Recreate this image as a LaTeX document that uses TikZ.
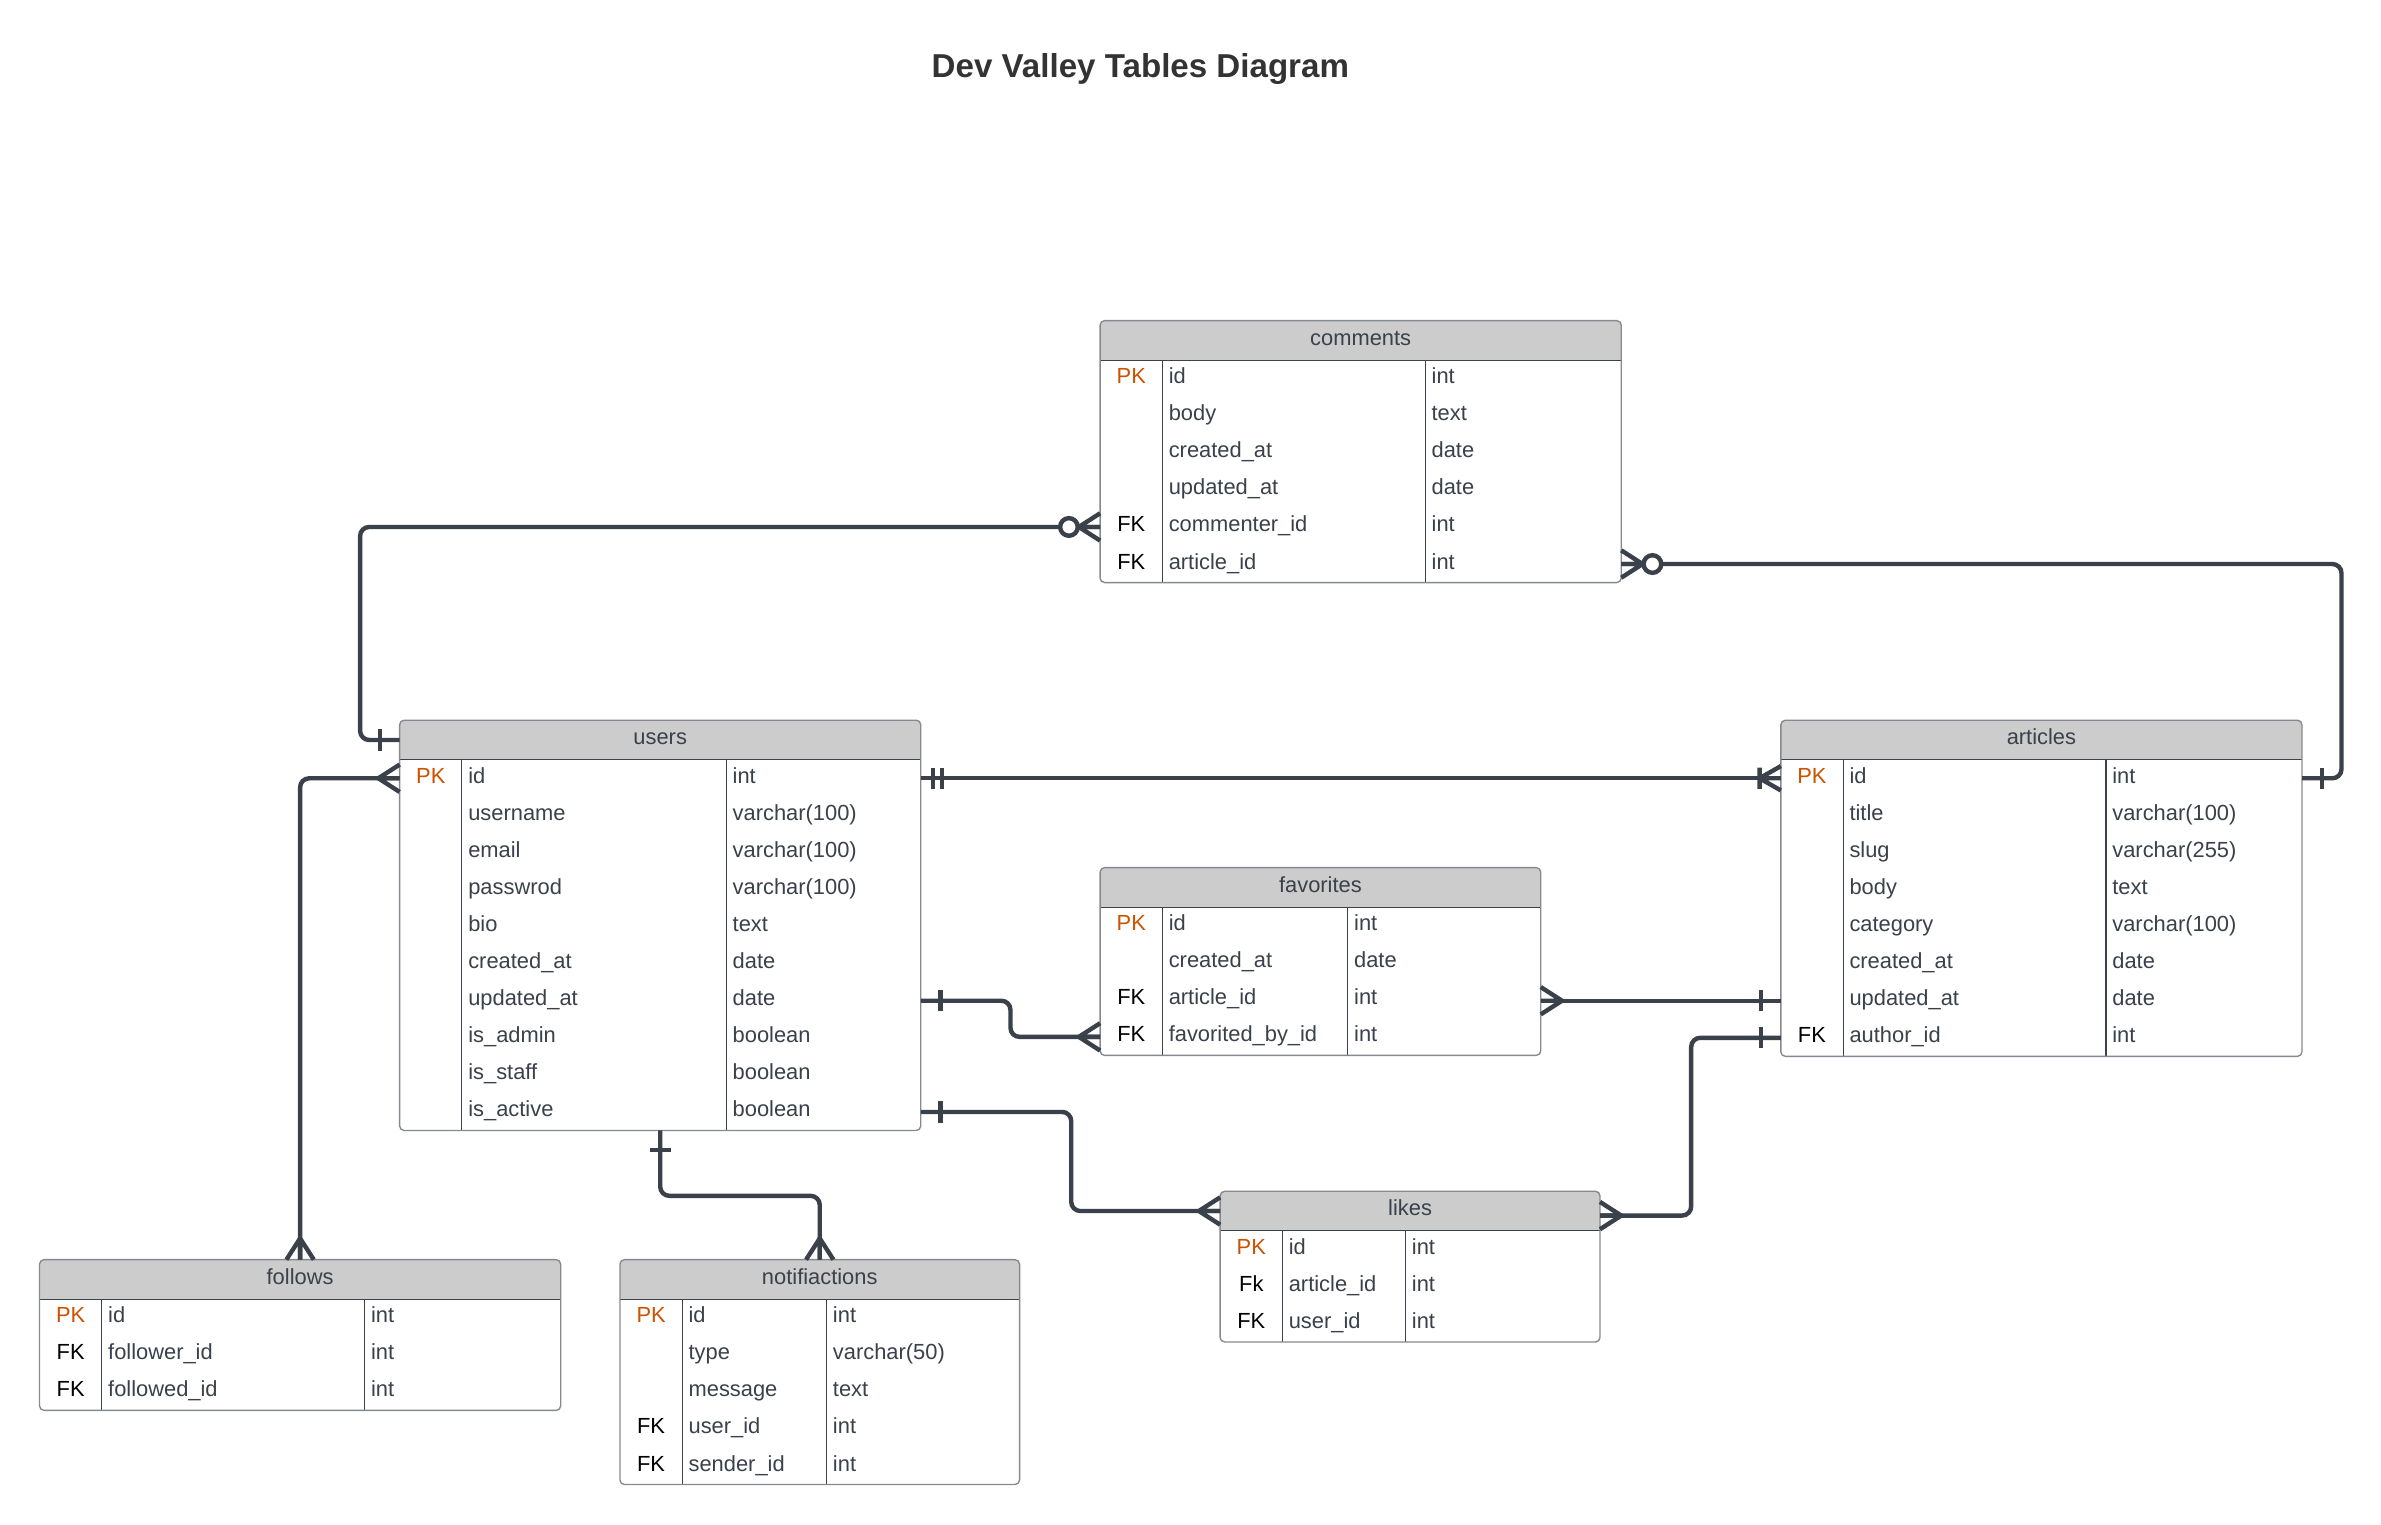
\documentclass[tikz,border=0pt]{standalone}
\usepackage{fontspec}
\setmainfont{Liberation Sans}
\usetikzlibrary{calc}
\definecolor{linecol}{HTML}{3A414A}
\definecolor{bordercol}{HTML}{868A90}
\definecolor{headfill}{HTML}{CCCCCC}
\definecolor{txtcol}{HTML}{3A414A}
\definecolor{pkcol}{HTML}{CC5200}
\definecolor{titlecol}{HTML}{333333}
\newcommand{\PKm}{\textcolor{pkcol}{PK}}
\tikzset{
  conn/.style={draw=linecol, line width=2.9pt, rounded corners=6pt},
  mk/.style={draw=linecol, line width=2.9pt},
  divline/.style={draw=linecol, line width=0.7pt},
  tabborder/.style={draw=bordercol, line width=0.9pt, rounded corners=3pt},
  cell/.style={font=\fontsize{14.4}{17}\selectfont, text=txtcol, inner sep=0pt},
  keycell/.style={cell, text=black, anchor=base},
  headcell/.style={cell, anchor=base},
  anchorbox/.style={inner sep=0pt, outer sep=0pt, draw=none, anchor=north west},
}
% #1 name #2 x #3 y #4 width #5 key width #6 name width #7 title #8 rows #9 list
\newcommand{\ertable}[9]{%
  \pgfmathsetmacro{\tabH}{26+#8*24.4}
  \fill[white, rounded corners=3pt] (#2,#3) rectangle ++(#4,\tabH);
  \begin{scope}
    \clip[rounded corners=3pt] (#2,#3) rectangle ++(#4,\tabH);
    \fill[headfill] (#2,#3) rectangle ++(#4,26);
  \end{scope}
  \draw[divline] ({#2},{#3+26}) -- ++(#4,0);
  \draw[divline] ({#2+#5},{#3+26}) -- ++(0,{#8*24.4});
  \draw[divline] ({#2+#5+#6},{#3+26}) -- ++(0,{#8*24.4});
  \draw[tabborder] (#2,#3) rectangle ++(#4,\tabH);
  \node[anchorbox, minimum width=#4pt, minimum height=\tabH pt] (#1) at (#2,#3) {};
  \node[anchorbox, minimum width=#4pt, minimum height=26pt] (#1-h) at (#2,#3) {};
  \node[headcell] (#1-title) at ({#2+#4/2},{#3+16.2}) {#7};
  \foreach \colk/\coln/\colt [count=\i] in {#9} {
    \pgfmathsetmacro{\cy}{#3+26+(\i-0.5)*24.4}
    \node[inner sep=0pt, outer sep=0pt, minimum width=#4pt, minimum height=24.4pt, anchor=west] (#1-\i) at (#2,\cy) {};
    \node[keycell] (#1-\i-k) at ({#2+#5/2},{\cy+3.3}) {\colk};
    \node[cell, anchor=base west] (#1-\i-n) at ({#2+#5+4},{\cy+3.3}) {\coln};
    \node[cell, anchor=base west] (#1-\i-t) at ({#2+#5+#6+4},{\cy+3.3}) {\colt};
  }
}
% markers: #1 point on box edge, #2 direction (0 right, 180 left, 90 up, -90 down)
\newcommand{\mone}[2]{\begin{scope}[shift={(#1)},rotate=#2]\draw[mk] (13,-7) -- (13,7);\end{scope}}
\newcommand{\mtwo}[2]{\begin{scope}[shift={(#1)},rotate=#2]\draw[mk] (8,-7) -- (8,7) (14,-7) -- (14,7);\end{scope}}
\newcommand{\mmany}[2]{\begin{scope}[shift={(#1)},rotate=#2]\draw[mk] (0,-9) -- (14,0) -- (0,9) (0,0) -- (14,0);\end{scope}}
\newcommand{\monemany}[2]{\begin{scope}[shift={(#1)},rotate=#2]\draw[mk] (0,-8) -- (14,0) -- (0,8) (0,0) -- (14,0) (14,-7) -- (14,7);\end{scope}}
\newcommand{\mzeromany}[2]{\begin{scope}[shift={(#1)},rotate=#2]\draw[mk] (0,-9) -- (14,0) -- (0,9) (0,0) -- (14,0);\draw[mk, fill=white] (20.5,0) circle[radius=5.8pt];\end{scope}}
\begin{document}
\begin{tikzpicture}[x=1pt, y=-1pt]
\fill[white] (0,0) rectangle (1567,1003.6);
\useasboundingbox (0,0) rectangle (1567,1003.6);
\node[font=\bfseries\fontsize{21.8}{26}\selectfont, text=titlecol, anchor=base, inner sep=0pt] (title) at (750.5,51) {Dev Valley Tables Diagram};

\ertable{comments}{724}{211}{343}{41}{173}{comments}{6}{\PKm/id/int, /body/text, /created\_at/date, /updated\_at/date, FK/commenter\_id/int, FK/article\_id/int}
\ertable{users}{263}{474}{343}{41}{174}{users}{10}{\PKm/id/int, /username/varchar(100), /email/varchar(100), /passwrod/varchar(100), /bio/text, /created\_at/date, /updated\_at/date, /is\_admin/boolean, /is\_staff/boolean, /is\_active/boolean}
\ertable{articles}{1172}{474}{343}{41}{173}{articles}{8}{\PKm/id/int, /title/varchar(100), /slug/varchar(255), /body/text, /category/varchar(100), /created\_at/date, /updated\_at/date, FK/author\_id/int}
\ertable{favorites}{724}{571}{290}{41}{122}{favorites}{4}{\PKm/id/int, /created\_at/date, FK/article\_id/int, FK/favorited\_by\_id/int}
\ertable{likes}{803}{784}{250}{41}{81}{likes}{3}{\PKm/id/int, Fk/article\_id/int, FK/user\_id/int}
\ertable{follows}{26}{829}{343}{41}{173}{follows}{3}{\PKm/id/int, FK/follower\_id/int, FK/followed\_id/int}
\ertable{notifications}{408}{829}{263}{41}{95}{notifiactions}{5}{\PKm/id/int, /type/varchar(50), /message/text, FK/user\_id/int, FK/sender\_id/int}

\coordinate (likesR) at ($(likes-h.east)+(0,3)$);

% users -> comments (commenter)
\draw[conn] (users-h.west) -- ++(-26,0) |- (comments-5.west);
\mone{users-h.west}{180}
\mzeromany{comments-5.west}{180}
% comments -> articles
\draw[conn] (comments-6.east) -- ++(474,0) |- (articles-1.east);
\mzeromany{comments-6.east}{0}
\mone{articles-1.east}{0}
% users -> articles (author)
\draw[conn] (users-1.east) -- (articles-1.west);
\mtwo{users-1.east}{0}
\monemany{articles-1.west}{180}
% follows -> users
\draw[conn] (follows-h.north) |- (users-1.west);
\mmany{follows-h.north}{90}
\mmany{users-1.west}{180}
% users -> favorites
\draw[conn] (users-7.east) -- ++(59,0) |- (favorites-4.west);
\mone{users-7.east}{0}
\mmany{favorites-4.west}{180}
% articles -> favorites
\draw[conn] (articles-7.west) -- (articles-7.west -| favorites-3.east);
\mone{articles-7.west}{180}
\mmany{articles-7.west -| favorites-3.east}{0}
% articles -> likes
\draw[conn] (articles-8.west) -- ++(-59,0) |- (likesR);
\mone{articles-8.west}{180}
\mmany{likesR}{0}
% users -> likes
\draw[conn] (users-10.east) -- ++(99,0) |- (likes-h.west);
\mone{users-10.east}{0}
\mmany{likes-h.west}{180}
% users -> notifications
\draw[conn] (users.south) -- ++(0,43) -| (notifications-h.north);
\mone{users.south}{-90}
\mmany{notifications-h.north}{90}
\end{tikzpicture}
\end{document}
